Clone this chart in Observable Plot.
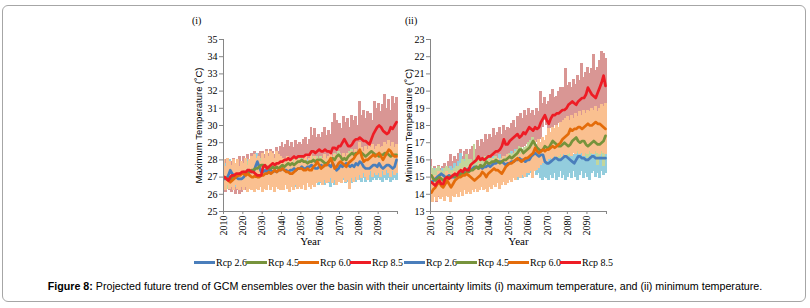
<!DOCTYPE html>
<html>
<head>
<meta charset="utf-8">
<script src="https://cdn.jsdelivr.net/npm/d3@7"></script>
<script src="https://cdn.jsdelivr.net/npm/@observablehq/plot@0.6"></script>
<style>
  body { margin: 0; background: #fff; }
  #page { position: relative; width: 810px; height: 308px; background: #fff; overflow: hidden; }
  #border { position: absolute; left: 2px; top: 5px; width: 804px; height: 297px; border: 1px solid #a6a6a6; border-radius: 6px; box-sizing: border-box; }
  .panel { position: absolute; top: 0; }
  .ptitle { position: absolute; top: 15px; font: 10px "Liberation Serif", serif; color: #000; }
  .leg { position: absolute; font: 10px "Liberation Serif", serif; color: #000; white-space: nowrap; display: flex; align-items: center; }
  .sw { display: inline-block; width: 21px; height: 3px; margin-right: 1px; }
  #caption { position: absolute; left: 0; top: 280px; width: 810px; text-align: center; font: 10.7px "Liberation Sans", Arial, sans-serif; color: #000; }
</style>
</head>
<body>
<div id="page">
  <div id="border"></div>
  <div class="ptitle" style="left:192px">(i)</div>
  <div class="ptitle" style="left:405px">(ii)</div>
  <div id="p1" class="panel" style="left:180px"></div>
  <div id="p2" class="panel" style="left:390px"></div>
  <div id="legend"></div>
  <div id="caption"><b>Figure 8:</b> Projected future trend of GCM ensembles over the basin with their uncertainty limits (i) maximum temperature, and (ii) minimum temperature.</div>
</div>
<script>
const years = d3.range(2010, 2100);
const scenarios = ["Rcp 2.6", "Rcp 4.5", "Rcp 6.0", "Rcp 8.5"];
const lineColors = ["#4a7ebb", "#77933c", "#e46c0a", "#ee1c25"];
const bandColors = ["#93cddd", "#c3d69b", "#fac090", "#d99694"];

// ---------- (i) Maximum temperature ----------
const tmaxMean26 = [26.9,26.9,27.1,27.4,27.2,27.1,27.0,26.9,26.9,26.9, 27.0,27.2,27.4,27.3,27.3,27.3,27.6,27.9,27.6,27.3, 27.3,27.4,27.3,27.4,27.4,27.3,27.4,27.3,27.4,27.4, 27.5,27.4,27.4,27.3,27.4,27.4,27.5,27.4,27.5,27.5, 27.6,27.5,27.5,27.6,27.6,27.7,27.6,27.5,27.5,27.6, 27.7,27.6,27.7,27.8,27.7,27.6,27.8,27.6,27.4,27.5, 27.7,27.6,27.7,27.8,27.7,27.6,27.7,27.6,27.8,27.7, 27.9,27.8,27.6,27.5,27.5,27.5,27.6,27.7,27.7,27.6, 27.8,27.6,27.5,27.6,27.7,27.7,27.6,27.5,27.6,28.0];
const tmaxMean45 = [27.0,26.9,26.9,26.8,27.0,27.0,27.1,27.1,27.2,27.2, 27.3,27.2,27.2,27.3,27.4,27.4,27.5,27.5,27.6,27.7, 27.7,27.6,27.6,27.5,27.5,27.6,27.5,27.6,27.5,27.6, 27.7,27.6,27.7,27.8,27.7,27.8,27.7,27.8,27.9,27.9, 28.0,27.9,27.9,27.8,27.9,27.9,28.0,27.9,28.0,28.0, 28.0,27.9,27.8,27.8,27.9,28.0,28.1,28.0,28.2,28.3, 28.2,28.0,28.1,28.0,28.2,28.3,28.4,28.3,28.4,28.4, 28.5,28.4,28.3,28.2,28.3,28.4,28.5,28.4,28.3,28.3, 28.2,28.3,28.3,28.4,28.4,28.3,28.2,28.3,28.3,28.3];
const tmaxMean60 = [27.0,26.9,26.8,26.7,26.8,26.9,27.0,27.1,27.1,27.2, 27.2,27.1,27.2,27.1,27.0,27.0,27.1,27.0,27.0,27.1, 27.1,27.2,27.2,27.3,27.2,27.3,27.4,27.3,27.4,27.4, 27.5,27.4,27.3,27.3,27.2,27.2,27.3,27.4,27.5,27.5, 27.5,27.4,27.4,27.5,27.4,27.4,27.6,27.7,27.9,27.7, 27.5,27.6,27.7,27.7,27.9,28.1,27.8,27.5,27.6,27.8, 27.9,27.8,27.7,27.6,27.8,27.9,28.0,28.1,28.3,28.4, 28.6,28.2,27.9,28.0,28.0,28.1,28.2,28.3,28.2,28.3, 28.4,28.2,28.0,28.2,28.4,28.6,28.5,28.3,28.2,28.2];
const tmaxMean85 = [27.0,26.9,26.8,27.0,27.1,27.1,27.2,27.2,27.2,27.3, 27.3,27.3,27.4,27.4,27.3,27.3,27.2,27.1,27.1,27.1, 27.6,27.7,27.5,27.6,27.7,27.8,27.7,27.8,27.8,27.9, 27.9,28.0,28.0,28.1,28.0,28.1,28.2,28.1,28.2,28.2, 28.2,28.2,28.3,28.3,28.3,28.5,28.5,28.4,28.5,28.6, 28.5,28.5,28.6,28.5,28.5,28.4,28.7,28.7,28.6,28.8, 28.8,29.0,29.2,29.0,28.8,28.8,28.9,29.1,29.2,29.2, 29.3,29.2,29.1,29.1,29.0,28.9,29.2,29.5,29.7,29.9, 30.0,29.9,29.7,29.6,29.5,29.6,29.9,29.8,30.0,30.2];

const tmaxLo26 = [26.5,26.3,26.6,26.4,26.7,26.5,26.4,26.6,26.5,26.7, 26.5,26.6,26.4,26.7,26.5,26.6,26.8,26.5,26.7,26.6, 26.6,26.7,26.5,26.8,26.6,26.7,26.5,26.8,26.6,26.7, 26.7,26.6,26.8,26.5,26.7,26.6,26.8,26.4,26.7,26.6, 26.7,26.5,26.8,26.6,26.7,26.5,26.8,26.6,26.7,26.5, 26.6,26.7,26.5,26.8,26.6,26.4,26.7,26.5,26.6,26.7, 26.7,26.6,26.8,26.6,26.7,26.8,26.6,26.9,26.7,26.8, 26.8,26.7,26.9,26.7,26.8,26.9,26.7,26.8,26.9,26.8, 26.9,26.8,26.7,26.9,26.8,26.9,26.7,26.8,26.9,26.8];
const tmaxHi26 = [27.6,27.8,27.5,28.0,27.7,27.9,27.6,27.8,27.5,27.7, 27.8,27.6,28.0,27.9,28.1,27.8,28.2,28.4,28.0,27.9, 27.9,28.0,27.8,28.1,27.9,28.0,27.8,28.1,27.9,28.0, 27.7,27.8,27.6,27.9,27.7,27.8,27.6,27.9,27.7,27.8, 27.8,27.9,27.7,28.0,27.8,27.9,27.7,28.0,27.8,27.9, 27.9,28.0,27.8,28.1,27.9,28.0,27.8,28.1,27.9,28.0, 28.0,27.9,28.1,27.9,28.0,27.8,28.1,27.9,28.0,27.9, 28.1,28.0,27.9,28.1,27.8,28.0,27.9,28.1,28.0,27.9, 28.0,27.9,28.1,28.0,27.9,28.1,28.0,27.9,28.0,28.2];
const tmaxLo45 = [26.5,26.4,26.3,26.3,26.5,26.4,26.6,26.5,26.7,26.6, 26.7,26.6,26.7,26.8,26.8,26.9,26.9,27.0,27.0,27.1, 27.1,27.0,27.0,26.9,27.0,27.0,26.9,27.0,26.9,27.0, 27.1,27.0,27.1,27.2,27.1,27.2,27.1,27.2,27.3,27.3, 27.3,27.2,27.3,27.2,27.3,27.3,27.4,27.3,27.4,27.4, 27.4,27.3,27.2,27.3,27.3,27.4,27.5,27.4,27.6,27.7, 27.6,27.4,27.5,27.4,27.6,27.7,27.8,27.7,27.8,27.8, 27.9,27.8,27.7,27.6,27.7,27.8,27.9,27.8,27.7,27.7, 27.6,27.7,27.7,27.8,27.8,27.7,27.6,27.7,27.7,27.7];
const tmaxHi45 = [27.5,27.4,27.6,27.3,27.5,27.6,27.5,27.7,27.6,27.8, 27.8,27.7,27.9,27.8,28.0,27.9,28.1,28.0,28.2,28.1, 27.8,27.7,27.8,27.6,27.7,27.8,27.6,27.8,27.7,27.8, 27.8,27.7,27.9,27.8,27.9,27.8,28.0,27.9,28.0,28.1, 28.1,28.0,28.1,27.9,28.0,28.1,28.2,28.0,28.2,28.1, 28.2,28.1,28.0,28.1,28.2,28.3,28.2,28.4,28.3,28.5, 28.4,28.2,28.3,28.2,28.4,28.5,28.6,28.4,28.6,28.5, 28.7,28.6,28.5,28.4,28.5,28.6,28.7,28.6,28.5,28.5, 28.4,28.5,28.6,28.7,28.6,28.5,28.4,28.6,28.5,28.6];
const tmaxLo60 = [26.4,26.2,26.5,26.3,26.4,26.2,26.5,26.3,26.2,26.4, 26.2,26.4,26.1,26.3,26.2,26.5,26.1,26.3,26.2,26.4, 26.1,26.3,26.2,26.5,26.2,26.4,26.1,26.4,26.3,26.2, 26.4,26.2,26.5,26.3,26.1,26.4,26.2,26.5,26.3,26.4, 26.3,26.5,26.2,26.6,26.4,26.3,26.5,26.4,26.6,26.7, 26.7,26.5,26.8,26.6,26.7,26.9,26.6,26.8,26.5,26.7, 26.8,26.6,26.9,26.7,26.8,26.3,26.9,26.7,27.0,26.8, 27.1,26.9,27.2,27.0,26.8,27.1,27.3,27.0,27.2,27.1, 27.2,27.0,27.3,27.1,27.4,27.2,27.0,27.3,27.1,27.2];
const tmaxHi60 = [28.0,27.6,28.1,27.9,27.7,28.0,27.8,28.0,27.6,27.9, 27.8,28.1,27.7,28.0,28.2,27.9,28.3,28.1,28.2,27.9, 28.4,28.1,28.5,28.2,28.5,28.4,28.1,28.5,28.3,28.2, 28.0,28.1,27.8,28.2,27.9,28.0,27.8,28.1,27.9,28.0, 27.9,28.0,28.2,27.9,28.1,28.3,28.0,28.2,27.9,28.1, 28.0,28.1,28.3,28.0,28.2,28.5,28.1,28.3,28.0,28.2, 28.3,28.1,28.4,28.2,28.4,28.3,28.5,28.4,28.6,28.5, 29.0,28.7,28.5,28.8,28.6,28.9,28.7,28.9,28.6,28.8, 28.9,28.7,28.8,29.0,28.9,29.1,28.8,29.0,28.7,28.9];
const tmaxLo85 = [26.4,26.1,26.3,26.2,26.1,26.3,26.0,26.2,26.0,26.1, 26.3,26.2,26.4,26.3,26.2,26.4,26.3,26.5,26.4,26.6, 26.5,26.6,26.4,26.7,26.6,26.8,26.6,26.7,26.9,26.8, 26.8,26.9,27.0,26.8,27.0,26.9,27.1,27.0,27.2,27.1, 27.1,27.2,27.0,27.2,27.3,27.1,27.3,27.2,27.4,27.3, 27.3,27.4,27.2,27.5,27.3,27.4,27.6,27.4,27.5,27.3, 27.4,27.2,27.5,27.3,27.1,27.4,27.2,27.0,27.3,27.2, 27.5,27.3,27.1,27.4,27.2,26.9,27.0,27.3,27.5,27.6, 27.8,27.6,27.5,27.7,27.5,27.8,27.6,27.9,27.7,28.0];
const tmaxHi85 = [27.7,28.0,27.8,28.0,27.9,28.1,27.8,28.0,28.2,27.9, 28.2,28.1,28.3,28.0,28.4,28.2,28.5,28.3,28.4,28.5, 28.5,28.3,28.6,28.4,28.6,28.5,28.3,28.7,28.5,28.8, 29.0,28.7,28.9,29.1,28.8,29.0,28.7,29.1,28.9,29.0, 28.9,29.2,29.3,28.9,29.2,29.9,29.4,29.8,29.3,29.5, 29.3,29.6,29.9,29.4,29.7,29.5,30.2,30.7,30.3,30.1, 30.1,29.8,30.5,30.2,30.4,29.9,30.6,30.3,30.5,30.0, 31.4,30.6,30.9,30.4,30.8,30.5,30.7,30.3,31.4,31.0, 31.3,30.8,31.2,31.8,31.0,31.5,30.9,31.7,31.3,31.6];

// ---------- (ii) Minimum temperature ----------
const tminMean26 = [14.7,14.8,14.9,15.0,15.1,15.2,15.1,15.0,15.0,15.1, 15.0,15.0,15.0,15.1,15.2,15.3,15.3,15.4,15.4,15.5, 15.4,15.5,15.6,15.6,15.5,15.6,15.5,15.6,15.6,15.7, 15.6,15.7,15.8,15.8,15.9,15.9,15.9,15.8,15.7,15.8, 15.8,15.9,15.9,16.0,16.0,16.1,16.0,16.0,15.9,16.0, 16.0,16.2,16.3,16.4,16.3,16.2,16.3,16.3,15.9,15.8, 15.8,15.9,16.0,16.1,16.1,16.0,16.0,16.1,16.2,16.2, 16.1,16.0,15.9,15.8,16.0,16.2,16.2,16.1,16.1,16.0, 16.0,16.1,16.2,16.2,16.1,16.1,16.1,16.1,16.1,16.1];
const tminMean45 = [15.1,14.9,14.8,14.9,15.0,14.9,14.8,14.9,15.0,15.0, 15.0,15.1,15.0,15.1,15.2,15.1,15.3,15.2,15.3,15.3, 15.4,15.4,15.5,15.6,15.5,15.7,15.6,15.7,15.9,15.8, 15.8,15.9,15.9,16.0,15.9,15.8,15.9,16.0,16.0,16.1, 16.2,16.1,16.2,16.3,16.4,16.6,16.6,16.4,16.5,16.6, 16.7,16.9,17.1,16.9,16.7,16.6,16.5,16.6,16.8,16.7, 16.7,16.9,17.1,17.0,16.9,16.8,16.8,16.9,17.0,16.9, 16.8,16.9,17.1,17.2,17.3,17.1,17.0,17.1,17.1,16.9, 16.8,16.9,17.0,17.1,17.0,16.9,16.9,17.0,17.1,17.4];
const tminMean60 = [14.1,14.3,14.4,14.6,14.7,14.5,14.4,14.6,14.8,14.6, 14.4,14.6,14.8,14.9,15.0,15.0,15.1,15.1,15.2,15.1, 15.0,14.9,14.8,14.9,15.0,15.1,15.3,15.2,15.0,15.2, 15.3,15.4,15.5,15.4,15.4,15.3,15.2,15.4,15.6,15.7, 15.8,15.8,15.9,16.0,16.1,16.0,15.9,16.0,16.1,16.1, 16.2,16.3,16.4,16.7,16.5,16.4,16.5,16.6,16.5,16.6, 16.6,16.7,16.8,16.7,16.8,16.9,17.0,17.2,17.3,17.4, 17.5,17.8,17.7,17.8,17.8,17.9,17.9,17.8,17.9,18.0, 18.1,18.0,18.0,18.1,18.2,18.1,18.1,18.0,17.9,17.8];
const tminMean85 = [14.7,14.6,14.5,14.7,14.8,14.6,14.6,14.9,15.0,14.9, 15.0,15.1,15.2,15.1,15.3,15.4,15.3,15.5,15.4,15.4, 15.7,15.8,15.9,16.0,16.2,16.0,16.1,16.0,16.1,16.2, 16.2,16.3,16.4,16.5,16.5,16.6,16.8,17.2,16.9,16.9, 17.1,17.2,17.3,17.4,17.5,17.3,17.4,17.6,17.5,17.7, 17.9,17.8,17.7,17.9,17.8,17.9,18.2,18.4,18.6,18.3, 18.1,18.4,18.6,18.6,18.7,18.7,18.8,18.9,18.9,19.0, 19.2,19.3,19.4,19.3,19.2,19.4,19.5,19.6,19.6,19.8, 20.2,20.0,19.8,19.7,19.6,19.9,20.2,20.5,20.9,20.3];

const tminLo26 = [14.1,13.9,14.2,14.0,14.3,14.1,14.2,14.0,14.3,14.2, 14.1,14.3,14.2,14.4,14.3,14.5,14.4,14.3,14.5,14.4, 14.5,14.4,14.6,14.5,14.3,14.6,14.4,14.7,14.5,14.6, 14.7,14.5,14.8,14.6,14.7,14.9,14.6,14.8,14.7,14.9, 14.8,15.0,14.9,15.1,14.8,15.0,15.2,14.9,15.1,15.0, 15.1,15.2,15.0,15.3,15.1,15.2,14.9,14.8,15.0,14.9, 14.8,15.1,14.9,15.2,14.8,15.0,15.3,14.9,15.1,14.8, 15.0,15.2,14.9,15.3,15.0,14.8,15.1,15.3,14.9,15.2, 15.0,14.8,15.2,15.3,15.0,15.2,14.9,15.3,15.1,15.2];
const tminHi26 = [15.4,15.2,15.5,15.3,15.6,15.4,15.5,15.3,15.6,15.5, 15.6,15.5,15.8,15.6,15.9,16.4,15.8,16.0,16.3,15.9, 15.9,15.8,16.0,15.8,16.1,15.9,16.0,15.8,16.1,16.0, 16.1,16.0,16.2,16.0,16.1,16.3,16.0,16.2,16.1,16.2, 16.4,16.5,16.3,16.6,16.4,16.5,16.7,16.4,16.6,16.5, 16.6,16.7,16.5,16.8,16.6,16.7,16.5,16.6,16.4,16.3, 16.4,16.3,16.5,16.4,16.6,16.5,16.4,16.6,16.5,16.7, 16.6,16.5,16.4,16.3,16.5,16.6,16.7,16.5,16.6,16.4, 16.5,16.6,16.7,16.5,16.6,16.4,16.6,16.7,16.5,16.6];
const tminLo45 = [14.6,14.4,14.3,14.4,14.5,14.4,14.3,14.4,14.5,14.5, 14.5,14.6,14.5,14.6,14.7,14.6,14.8,14.7,14.8,14.8, 14.9,14.9,15.0,15.1,15.0,15.2,15.1,15.2,15.4,15.3, 15.3,15.4,15.4,15.5,15.4,15.3,15.4,15.5,15.5,15.6, 15.7,15.6,15.7,15.8,15.9,16.0,16.0,15.8,15.9,16.0, 16.1,16.2,16.4,16.2,16.0,15.9,15.8,15.9,16.1,16.0, 16.0,16.2,16.4,16.3,16.2,16.1,16.1,16.2,16.3,16.2, 16.1,16.2,16.4,16.5,16.6,16.4,16.3,16.4,16.4,16.2, 16.1,16.2,16.3,16.4,16.3,15.7,16.2,16.3,15.6,16.5];
const tminHi45 = [15.6,15.5,15.4,15.5,15.6,15.4,15.3,15.5,15.6,15.5, 15.4,15.4,15.5,15.6,15.6,15.8,16.0,15.9,16.3,16.0, 16.0,15.9,16.9,16.0,16.0,16.0,15.9,16.1,16.2,16.1, 16.0,16.1,16.1,16.2,16.1,16.0,16.1,16.2,16.2,16.3, 16.4,16.3,16.4,16.5,16.6,16.8,16.7,16.6,16.7,16.8, 17.0,17.1,17.3,17.1,16.9,16.8,16.7,16.8,17.0,16.9, 17.4,17.6,17.8,17.7,17.6,17.5,17.5,17.6,17.7,17.6, 17.5,17.6,17.8,17.9,18.0,17.8,17.7,17.8,17.8,17.6, 17.5,17.6,17.7,17.8,17.7,17.6,17.6,17.7,17.8,18.1];
const tminLo60 = [13.7,13.5,13.8,13.6,13.9,13.7,13.8,13.6,13.9,13.8, 13.5,13.9,13.8,14.0,13.8,14.1,13.9,14.2,14.0,14.1, 14.0,14.2,14.1,14.3,14.1,14.2,14.4,14.2,14.3,14.1, 14.4,14.3,14.5,14.4,14.6,14.3,14.5,14.7,14.5,14.6, 14.8,14.7,14.9,14.8,15.0,15.1,14.9,15.1,15.0,15.2, 15.2,15.3,14.9,15.3,15.4,15.5,15.7,15.8,16.0,15.9, 16.0,16.1,15.9,16.2,16.0,16.2,16.3,16.1,16.3,16.2, 16.3,16.4,16.2,16.4,16.3,16.5,16.3,16.4,16.2,16.4, 16.3,16.5,16.4,16.3,16.5,16.4,16.3,16.5,16.4,16.3];
const tminHi60 = [15.2,14.9,15.1,15.0,15.3,15.1,15.2,15.0,15.3,15.2, 15.2,15.0,15.3,15.1,15.4,15.2,15.5,15.3,15.4,15.6, 15.4,15.6,15.3,15.7,15.5,15.8,15.6,15.7,15.9,15.8, 15.9,15.7,16.0,15.8,16.1,15.9,16.0,16.2,16.1,16.3, 16.0,16.2,16.1,16.3,16.1,16.4,16.3,16.5,16.4,16.6, 16.7,16.9,16.8,17.1,16.9,17.2,17.0,17.3,17.1,17.4, 17.8,17.6,17.9,17.8,18.0,17.9,18.2,18.0,18.3,18.4, 18.5,18.3,18.6,18.4,18.7,18.5,18.8,18.6,18.9,18.7, 18.9,18.8,19.0,18.9,19.1,18.8,19.0,19.2,19.1,19.3];
const tminLo85 = [14.0,13.6,13.9,13.5,13.8,13.7,14.0,13.9,14.2,14.1, 14.3,14.2,14.5,14.3,14.6,14.5,14.7,14.6,14.8,14.7, 14.9,14.8,15.0,15.1,15.0,15.2,15.1,15.3,15.2,15.4, 15.4,15.5,15.6,15.5,15.7,15.8,15.7,15.9,16.0,16.1, 16.2,16.1,16.3,16.4,16.5,16.4,16.6,16.7,16.8,16.9, 16.8,16.9,17.0,16.9,17.0,17.1,17.2,17.9,18.3,18.0, 17.6,17.8,17.9,18.0,17.9,18.1,18.2,18.1,18.3,18.4, 18.1,18.2,18.0,18.3,18.1,18.4,18.2,18.5,18.3,18.6, 18.7,18.5,18.8,18.6,18.9,18.7,19.0,18.8,19.1,18.9];
const tminHi85 = [16.0,15.4,15.6,15.3,15.7,15.5,15.6,15.8,15.5,15.9, 16.3,15.9,16.2,16.0,16.4,16.6,16.2,16.5,16.6,16.3, 16.6,16.8,16.9,16.6,17.1,16.8,17.2,17.0,17.5,17.2, 17.5,17.3,17.8,17.4,17.6,17.9,17.5,18.0,17.7,17.9, 17.8,18.1,18.3,17.9,18.5,18.2,18.7,18.4,18.9,18.6, 19.0,18.7,18.9,18.6,19.0,18.8,20.0,19.3,19.6,19.2, 19.4,19.8,20.1,19.6,19.7,20.0,20.2,19.8,20.2,21.3, 20.3,20.5,20.2,20.7,20.4,20.9,20.6,21.6,20.8,21.1, 21.4,21.0,21.3,22.1,21.2,21.4,21.8,22.3,22.2,21.9];

const xTicks = [2010,2020,2030,2040,2050,2060,2070,2080,2090,2100];
const tmaxTicks = [25,26,27,28,29,30,31,32,33,34,35];
const tminTicks = [13,14,15,16,17,18,19,20,21,22,23];

function rowsFor(means, los, his) {
  return scenarios.map((s, k) => years.map((y, i) => ({year: y, scen: s, mean: means[k][i], lo: los[k][i], hi: his[k][i]})));
}

function panel(series, yDomain, yTicks, yLabel, opts) {
  // band drawing order: 8.5 back, then 2.6, 4.5, 6.0
  const bandOrder = [3, 0, 1, 2];
  const grey = "#868686";
  return Plot.plot({
    width: 230, height: 256,
    marginLeft: opts.ml, marginRight: opts.mr, marginTop: 39, marginBottom: 45,
    x: {domain: [2010, 2100]},
    y: {domain: yDomain},
    style: {fontFamily: "'Liberation Serif', 'Times New Roman', serif", fontSize: "10px", color: "#000", background: "transparent"},
    marks: [
      ...bandOrder.map(k => Plot.rect(series[k], {x1: "year", x2: d => d.year + 1, y1: "lo", y2: "hi", fill: bandColors[k], insetLeft: -0.5, insetRight: -0.5, shapeRendering: "crispEdges"})),
      ...[0, 1, 2, 3].map(k => Plot.line(series[k], {x: d => d.year + 0.5, y: "mean", stroke: lineColors[k], strokeWidth: 2.7, strokeLinejoin: "round"})),
      Plot.ruleX([2010], {stroke: grey}),
      Plot.ruleY([yDomain[0]], {stroke: grey}),
      Plot.axisY({ticks: yTicks, tickSize: 4, tickPadding: 2, stroke: grey, fill: "#000", label: null, tickFormat: d => String(d)}),
      Plot.axisX({ticks: xTicks, tickSize: 3, tickPadding: 1, tickRotate: -90, stroke: grey, fill: "#000", label: null, tickFormat: d => d === 2100 ? "" : String(d)}),
      Plot.text([yLabel], {frameAnchor: "left", textAnchor: "middle", rotate: -90, dx: -opts.ylo, fontFamily: "'Liberation Sans', Arial, sans-serif", fontSize: 9.5, fill: "#000"}),
      Plot.text(["Year"], {frameAnchor: "bottom", dy: 33, fontSize: 11, fill: "#000"})
    ]
  });
}

const maxSeries = rowsFor([tmaxMean26, tmaxMean45, tmaxMean60, tmaxMean85], [tmaxLo26, tmaxLo45, tmaxLo60, tmaxLo85], [tmaxHi26, tmaxHi45, tmaxHi60, tmaxHi85]);
const minSeries = rowsFor([tminMean26, tminMean45, tminMean60, tminMean85], [tminLo26, tminLo45, tminLo60, tminLo85], [tminHi26, tminHi45, tminHi60, tminHi85]);

document.getElementById("p1").appendChild(panel(maxSeries, [25, 35], tmaxTicks, "Maximum Temperature (˚C)", {ml: 43, mr: 13, ylo: 25}));
document.getElementById("p2").appendChild(panel(minSeries, [13, 23], tminTicks, "Minimum Temperature (˚C)", {ml: 40, mr: 14, ylo: 22}));

// legends
const legend = document.getElementById("legend");
[[194, 52], [404, 52]].forEach(([x0, step]) => {
  scenarios.forEach((s, k) => {
    const item = document.createElement("div");
    item.className = "leg";
    item.style.left = (x0 + k * step) + "px";
    item.style.top = "257px";
    const sw = document.createElement("span");
    sw.className = "sw";
    sw.style.background = lineColors[k];
    item.appendChild(sw);
    item.appendChild(document.createTextNode(s));
    legend.appendChild(item);
  });
});
</script>
</body>
</html>
